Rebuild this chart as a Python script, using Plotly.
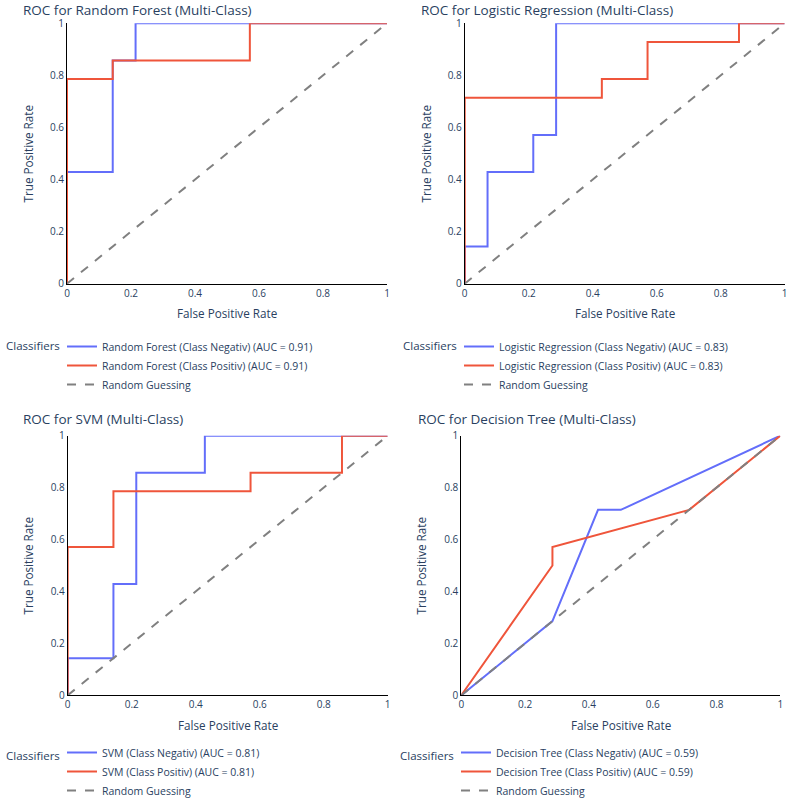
import plotly.graph_objects as go

W, H = 794, 801

# ---------------- data ----------------
model_names = ["Random Forest", "Logistic Regression", "SVM", "Decision Tree"]
auc_values = [0.91, 0.83, 0.81, 0.59]

rf_neg_fpr = [0, 0, 0.1429, 0.1429, 0.2143, 0.2143, 1]
rf_neg_tpr = [0, 0.4286, 0.4286, 0.8571, 0.8571, 1, 1]
rf_pos_fpr = [0, 0, 0.1429, 0.1429, 0.5714, 0.5714, 1]
rf_pos_tpr = [0, 0.7857, 0.7857, 0.8571, 0.8571, 1, 1]

lr_neg_fpr = [0, 0, 0.0714, 0.0714, 0.2143, 0.2143, 0.2857, 0.2857, 1]
lr_neg_tpr = [0, 0.1429, 0.1429, 0.4286, 0.4286, 0.5714, 0.5714, 1, 1]
lr_pos_fpr = [0, 0, 0.4286, 0.4286, 0.5714, 0.5714, 0.8571, 0.8571, 1]
lr_pos_tpr = [0, 0.7143, 0.7143, 0.7857, 0.7857, 0.9286, 0.9286, 1, 1]

svm_neg_fpr = [0, 0, 0.1429, 0.1429, 0.2143, 0.2143, 0.4286, 0.4286, 1]
svm_neg_tpr = [0, 0.1429, 0.1429, 0.4286, 0.4286, 0.8571, 0.8571, 1, 1]
svm_pos_fpr = [0, 0, 0.1429, 0.1429, 0.5714, 0.5714, 0.8571, 0.8571, 1]
svm_pos_tpr = [0, 0.5714, 0.5714, 0.7857, 0.7857, 0.8571, 0.8571, 1, 1]

dt_neg_fpr = [0, 0.2857, 0.4286, 0.5, 1]
dt_neg_tpr = [0, 0.2857, 0.7143, 0.7143, 1]
dt_pos_fpr = [0, 0.2857, 0.2857, 0.7143, 1]
dt_pos_tpr = [0, 0.5, 0.5714, 0.7143, 1]

diag_x = [0, 1]
diag_y = [0, 1]

tick_vals = [0, 0.2, 0.4, 0.6, 0.8, 1]
tick_text = ["0", "0.2", "0.4", "0.6", "0.8", "1"]

curves = [
    (rf_neg_fpr, rf_neg_tpr, rf_pos_fpr, rf_pos_tpr),
    (lr_neg_fpr, lr_neg_tpr, lr_pos_fpr, lr_pos_tpr),
    (svm_neg_fpr, svm_neg_tpr, svm_pos_fpr, svm_pos_tpr),
    (dt_neg_fpr, dt_neg_tpr, dt_pos_fpr, dt_pos_tpr),
]

# ---------------- layout geometry (pixels) ----------------
# plot areas: (left, right, top, bottom)
areas = [
    (67, 387, 23.3, 283.7),
    (464.7, 784.7, 23.3, 283.7),
    (67.7, 387.7, 435.7, 695.3),
    (461.3, 780.3, 435.7, 695.3),
]
title_pos = [(22, 0), (420, 0), (22, 409), (417, 409)]
ytitle_x = [27, 425, 27, 420]
legend_title_pos = [(4, 346), (401, 346), (4, 755), (398, 755)]
legend_pos = [(62, 332), (459, 332), (62, 805), (456, 805)]
legend_anchor = ["top", "top", "bottom", "bottom"]

BLUE = "#636EFA"
RED = "#EF553B"
FONT_COLOR = "#2a3f5f"

fig = go.Figure()


def px_x(v):
    return v / W


def px_y(v):
    return 1 - v / H


for i, (name, auc, (nf, nt, pf, pt)) in enumerate(zip(model_names, auc_values, curves)):
    sfx = "" if i == 0 else str(i + 1)
    xa = "x" + sfx
    ya = "y" + sfx
    lg = "legend" + sfx
    fig.add_trace(go.Scatter(x=nf, y=nt, mode="lines",
                             name=f"{name} (Class Negativ) (AUC = {auc:.2f})",
                             line=dict(color=BLUE, width=2),
                             xaxis=xa, yaxis=ya, legend=lg))
    fig.add_trace(go.Scatter(x=pf, y=pt, mode="lines",
                             name=f"{name} (Class Positiv) (AUC = {auc:.2f})",
                             line=dict(color=RED, width=2),
                             xaxis=xa, yaxis=ya, legend=lg))
    fig.add_trace(go.Scatter(x=diag_x, y=diag_y, mode="lines",
                             name="Random Guessing",
                             line=dict(color="gray", width=2, dash="dash"),
                             xaxis=xa, yaxis=ya, legend=lg))

    l, r, t, b = areas[i]
    axis_common = dict(range=[0, 1], showgrid=False, zeroline=False,
                       showline=True, linecolor="black", linewidth=1,
                       ticks="", tickfont=dict(size=10, color=FONT_COLOR),
                       tickvals=tick_vals, ticktext=tick_text)
    fig.update_layout(**{
        "xaxis" + sfx: dict(domain=[px_x(l), px_x(r)], anchor=ya, **axis_common),
        "yaxis" + sfx: dict(domain=[px_y(b), px_y(t)], anchor=xa, **axis_common),
        lg: dict(x=px_x(legend_pos[i][0]), y=px_y(legend_pos[i][1]),
                 xref="paper", yref="paper",
                 xanchor="left", yanchor=legend_anchor[i], orientation="v",
                 font=dict(size=10.5, color=FONT_COLOR),
                 bgcolor="rgba(0,0,0,0)", tracegroupgap=0),
    })
    # chart title
    tx, ty = title_pos[i]
    fig.add_annotation(text=f"ROC for {name} (Multi-Class)", xref="paper", yref="paper",
                       x=px_x(tx), y=px_y(ty), xanchor="left", yanchor="top",
                       borderpad=0,
                       showarrow=False, font=dict(size=13.5, color=FONT_COLOR))
    # x axis title
    fig.add_annotation(text="False Positive Rate", xref="paper", yref="paper",
                       x=px_x((l + r) / 2), y=px_y(b + 29.5),
                       xanchor="center", yanchor="middle",
                       showarrow=False, font=dict(size=11.7, color=FONT_COLOR))
    # y axis title
    fig.add_annotation(text="True Positive Rate", xref="paper", yref="paper",
                       x=px_x(ytitle_x[i]), y=px_y((t + b) / 2), textangle=-90,
                       xanchor="center", yanchor="middle",
                       showarrow=False, font=dict(size=11.7, color=FONT_COLOR))
    # legend title
    lx, ly = legend_title_pos[i]
    fig.add_annotation(text="Classifiers", xref="paper", yref="paper",
                       x=px_x(lx), y=px_y(ly), xanchor="left", yanchor="middle",
                       showarrow=False, font=dict(size=11.5, color=FONT_COLOR))

fig.update_layout(width=W, height=H, margin=dict(l=0, r=0, t=0, b=0, autoexpand=False),
                  plot_bgcolor="white", paper_bgcolor="white",
                  font=dict(family="Open Sans, Arial, sans-serif", color=FONT_COLOR),
                  showlegend=True)

fig.write_html("out.html")
